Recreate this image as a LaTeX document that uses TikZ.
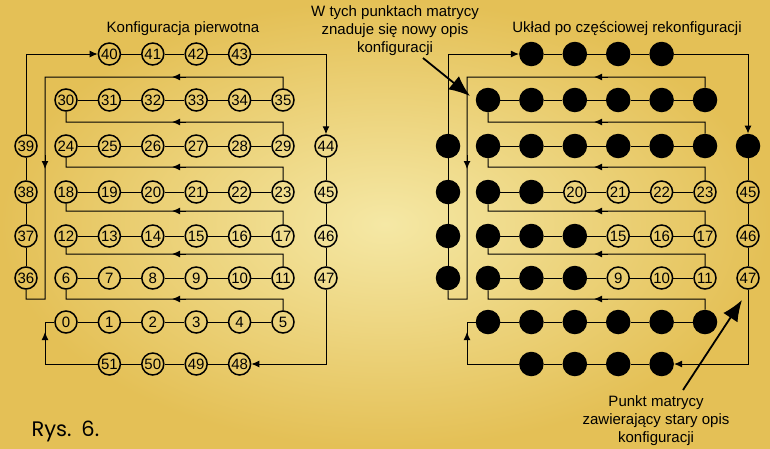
\documentclass[tikz,border=0pt]{standalone}
\usepackage{fontspec}
\setmainfont{Liberation Sans}
\newfontfamily\rysfont{Poppins}
\usetikzlibrary{arrows.meta}
\definecolor{bgA}{RGB}{228,192,86}
\definecolor{bgB}{RGB}{245,232,165}
\newcommand\myconn[2]{%
\begin{scope}[xshift=#2]
\foreach \a/\b in {0/1,1/2,2/3,3/4,4/5,6/7,7/8,8/9,9/10,10/11,12/13,13/14,14/15,15/16,16/17,18/19,19/20,20/21,21/22,22/23,24/25,25/26,26/27,27/28,28/29,30/31,31/32,32/33,33/34,34/35,36/37,37/38,38/39,40/41,41/42,42/43,44/45,45/46,46/47,48/49,49/50,50/51}
  {\draw[conn] (#1\a) -- (#1\b);}
\foreach \s/\e/\h in {5/6/299,11/12/254,17/18/211,23/24/167,29/30/122}
  {\draw[conn] (#1\s) -- (283,\h) -- (66,\h) -- (#1\e);
   \draw[conn,tip] (186,\h) -- (172,\h);}
\draw[conn] (#135) -- (283,77) -- (45,77) -- (45,299) -- (26,299) -- (#136);
\draw[conn,tip] (186,77) -- (172,77);
\draw[conn,tip] (45,155) -- (45,169);
\draw[conn,tip] (#139) -- (26,54) -- (#140);
\draw[conn,tip] (#143) -- (326,54) -- (#144);
\draw[conn,tip] (#147) -- (326,364) -- (#148);
\draw[conn] (#151) -- (45,364) -- (45,322) -- (#10);
\draw[conn,tip] (45,346) -- (45,332);
\end{scope}}
\begin{document}
\begin{tikzpicture}[x=1pt,y=-1pt,
  onode/.style={circle,draw,line width=1.5pt,minimum size=22pt,inner sep=0pt,font=\fontsize{15}{15}\selectfont},
  fnode/.style={circle,fill=black,minimum size=24.5pt,inner sep=0pt},
  conn/.style={line width=1pt},
  tip/.style={-{Latex[length=8pt,width=7pt]}},
  lbl/.style={font=\fontsize{15}{18}\selectfont,align=center},
  bigarrow/.style={line width=1.8pt,-{Latex[length=21pt,width=17pt]}}]
\useasboundingbox (0,0) rectangle (770,448);
\fill[bgA] (0,0) rectangle (770,448);
\shade[inner color=bgB,outer color=bgA] (0,0) rectangle (770,448);
% positions
\foreach \r/\y in {0/322,1/278,2/236,3/192,4/146,5/100}
  \foreach \c in {0,...,5}
   {\pgfmathtruncatemacro\n{6*\r+\c}
    \coordinate (P\n) at (66+43.4*\c,\y);}
\foreach \n/\y in {36/278,37/236,38/192,39/146} \coordinate (P\n) at (26,\y);
\foreach \n/\c in {40/1,41/2,42/3,43/4} \coordinate (P\n) at (66+43.4*\c,54);
\foreach \n/\y in {44/146,45/192,46/236,47/278} \coordinate (P\n) at (326,\y);
\foreach \n/\c in {48/4,49/3,50/2,51/1} \coordinate (P\n) at (66+43.4*\c,364);
% left diagram
\foreach \n in {0,...,51} \node[onode] (L\n) at (P\n) {\n};
% right diagram
\foreach \n in {0,1,2,3,4,5,6,7,8,12,13,14,18,19,24,25,26,27,28,29,30,31,32,33,34,35,36,37,38,39,40,41,42,43,44,48,49,50,51}
  \node[fnode] (R\n) at ([xshift=422pt]P\n) {};
\foreach \n in {9,10,11,15,16,17,20,21,22,23,45,46,47}
  \node[onode] (R\n) at ([xshift=422pt]P\n) {\n};
\myconn{L}{0pt}
\myconn{R}{422pt}
% labels
\node[lbl] (h1) at (183,29) {Konfiguracja pierwotna};
\node[lbl] (h2) at (627,29) {Układ po częściowej rekonfiguracji};
\node[lbl] (t1) at (395,31) {W tych punktach matrycy\\znaduje się nowy opis\\konfiguracji};
\node[lbl] (t2) at (656,421) {Punkt matrycy\\zawierający stary opis\\konfiguracji};
\coordinate (a1s) at (423,58);
\coordinate (a1e) at (470,96);
\coordinate (a2s) at (683,390);
\coordinate (a2e) at (742,300);
\draw[bigarrow] (a1s) -- (a1e);
\draw[bigarrow] (a2s) -- (a2e);
\node[font=\rysfont\fontsize{21}{21}\selectfont,anchor=base west] (rys) at (28,436) {Rys.\hspace{10pt}6.};
\end{tikzpicture}
\end{document}
